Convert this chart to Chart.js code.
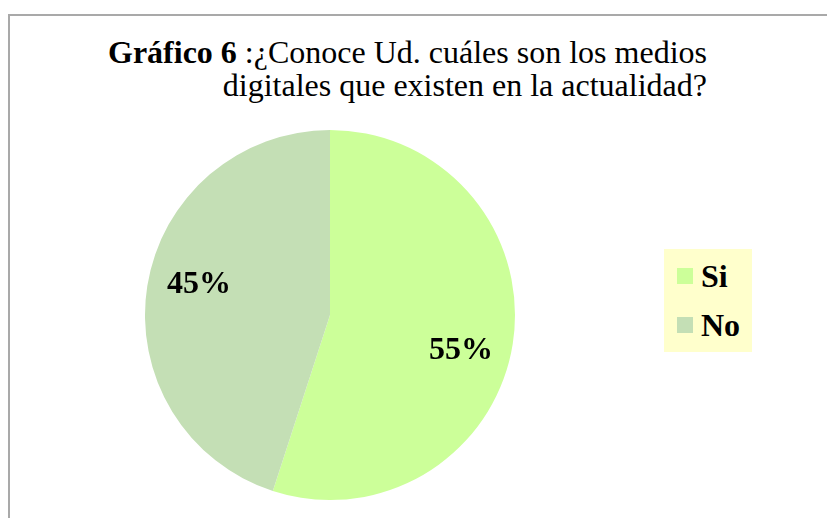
<!DOCTYPE html>
<html>
<head>
<meta charset="utf-8">
<script src="https://cdn.jsdelivr.net/npm/chart.js@4.4.1/dist/chart.umd.min.js"></script>
<style>
  html, body { margin: 0; padding: 0; background: #fff; width: 827px; height: 518px; overflow: hidden; }
  #frame { position: absolute; left: 8px; top: 14px; width: 900px; height: 600px; border: 2px solid #a9a9a9; box-sizing: border-box; }
  #title { position: absolute; right: calc(827px - 707px); top: 36px; font-family: "Liberation Serif", "Times New Roman", serif; font-size: 32px; line-height: 33px; text-align: right; color: #000; white-space: nowrap; }
  #title b { font-weight: bold; }
  #pieBox { position: absolute; left: 145px; top: 130px; width: 370px; height: 370px; }
  #legend { position: absolute; left: 664px; top: 249px; width: 88px; height: 103px; background: #FFFFCC; font-family: "Liberation Serif", "Times New Roman", serif; font-weight: bold; font-size: 32px; }
  .item { position: absolute; left: 13px; height: 30px; }
  .sw { position: absolute; left: 0; width: 16px; height: 16px; }
  .lt { position: absolute; left: 24px; top: -8px; line-height: 32px; }
</style>
</head>
<body>
<div id="frame"></div>
<div id="title"><b>Gráfico 6</b> :¿Conoce Ud. cuáles son los medios<br>digitales que existen en la actualidad?</div>
<div id="pieBox"><canvas id="c"></canvas></div>
<div id="legend"></div>
<script>
const categories = ['Si', 'No'];
const values = [55, 45];
const colors = ['#CCFF99', '#C4DFB5'];

// legend built from data
const legend = document.getElementById('legend');
categories.forEach((cat, i) => {
  const it = document.createElement('div');
  it.className = 'item';
  it.style.top = (19 + i * 49) + 'px';
  const sw = document.createElement('div');
  sw.className = 'sw';
  sw.style.background = colors[i];
  const lt = document.createElement('div');
  lt.className = 'lt';
  lt.textContent = cat;
  it.appendChild(sw); it.appendChild(lt);
  legend.appendChild(it);
});

const pctLabels = {
  id: 'pctLabels',
  afterDatasetsDraw(chart) {
    const ctx = chart.ctx;
    const meta = chart.getDatasetMeta(0);
    const total = values.reduce((a, b) => a + b, 0);
    ctx.save();
    ctx.font = 'bold 32px "Liberation Serif", "Times New Roman", serif';
    ctx.fillStyle = '#000';
    ctx.textAlign = 'center';
    ctx.textBaseline = 'middle';
    meta.data.forEach((arc, i) => {
      const p = arc.getProps(['x', 'y', 'startAngle', 'endAngle', 'outerRadius'], true);
      const mid = (p.startAngle + p.endAngle) / 2 + 0.09;
      const r = p.outerRadius * 0.73;
      const x = p.x + Math.cos(mid) * r;
      const y = p.y + Math.sin(mid) * r + 3;
      ctx.fillText(Math.round(values[i] / total * 100) + '%', x, y);
    });
    ctx.restore();
  }
};

new Chart(document.getElementById('c'), {
  type: 'pie',
  data: {
    labels: categories,
    datasets: [{ data: values, backgroundColor: colors, borderWidth: 0 }]
  },
  options: {
    responsive: true,
    maintainAspectRatio: false,
    animation: false,
    layout: { padding: 0 },
    plugins: { legend: { display: false }, tooltip: { enabled: false }, title: { display: false } }
  },
  plugins: [pctLabels]
});
</script>
</body>
</html>
